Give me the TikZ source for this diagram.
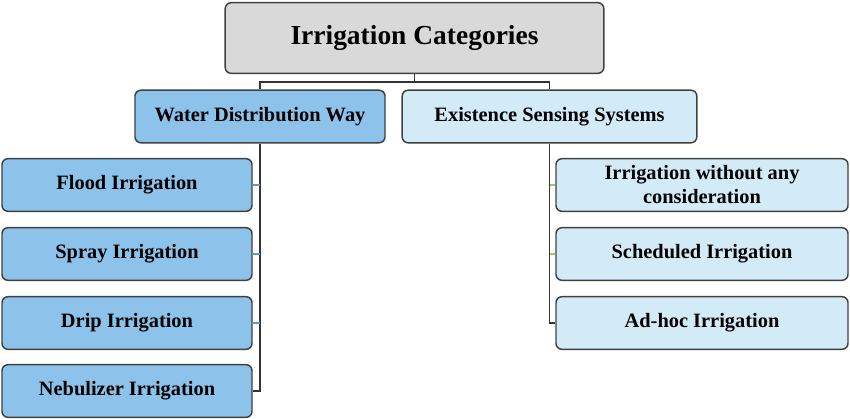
\documentclass[tikz,border=0pt]{standalone}
\usepackage{fontspec}
\setmainfont{Liberation Serif}
\definecolor{boxgray}{HTML}{D9D9D9}
\definecolor{midblue}{HTML}{8DC3EB}
\definecolor{paleblue}{HTML}{D3EBF7}
\definecolor{edgegray}{HTML}{404040}
\definecolor{stubblue}{HTML}{5B9BD5}
\definecolor{stubgreen}{HTML}{92D050}
\begin{document}
\begin{tikzpicture}[x=0.75pt, y=-0.75pt,
		box/.style={draw=edgegray, line width=1.1pt, rounded corners=4.5pt, align=center,
			font=\fontsize{15.3}{18}\selectfont\bfseries, inner sep=0pt},
		leftbox/.style={box, fill=midblue, minimum width=187.5pt, minimum height=39.5pt},
		rightbox/.style={box, fill=paleblue, minimum width=219pt, minimum height=39.5pt},
		link/.style={draw=black!80, line width=1pt}]
	\useasboundingbox (0,0) rectangle (850,418);

	% top of the tree
	\node[box, fill=boxgray, minimum width=284pt, minimum height=53pt,
		font=\fontsize{20.6}{24}\selectfont\bfseries] (top) at (414.5,38) {Irrigation Categories};
	\node[leftbox] (water) at (260,116.5) {Water Distribution Way};
	\node[rightbox, minimum width=221pt] (sense) at (549.5,116.5) {Existence Sensing Systems};

	% water distribution
	\node[leftbox] (flood) at (127,185) {Flood Irrigation};
	\node[leftbox] (spray) at (127,254) {Spray Irrigation};
	\node[leftbox] (drip) at (127,323) {Drip Irrigation};
	\node[leftbox] (neb) at (127,391) {Nebulizer Irrigation};

	% sensing systems
	\node[rightbox] (none) at (702,185) {Irrigation without any\\consideration};
	\node[rightbox] (sched) at (702,254) {Scheduled Irrigation};
	\node[rightbox] (adhoc) at (702,323) {Ad-hoc Irrigation};

	\coordinate (bus) at (414.5,82);
	\draw[link] (top.south) -- (bus);
	\draw[link] (water.north) |- (bus) -| (sense.north);

	\draw[link] (water.south) |- (neb.east);
	\foreach \n in {flood,spray,drip}
		\draw[link, draw=stubblue] (\n.east) -- (\n.east -| water.south);

	\draw[link] (sense.south) |- (adhoc.west);
	\foreach \n in {none,sched}
		\draw[link, draw=stubgreen] (\n.west) -- (\n.west -| sense.south);
\end{tikzpicture}
\end{document}
